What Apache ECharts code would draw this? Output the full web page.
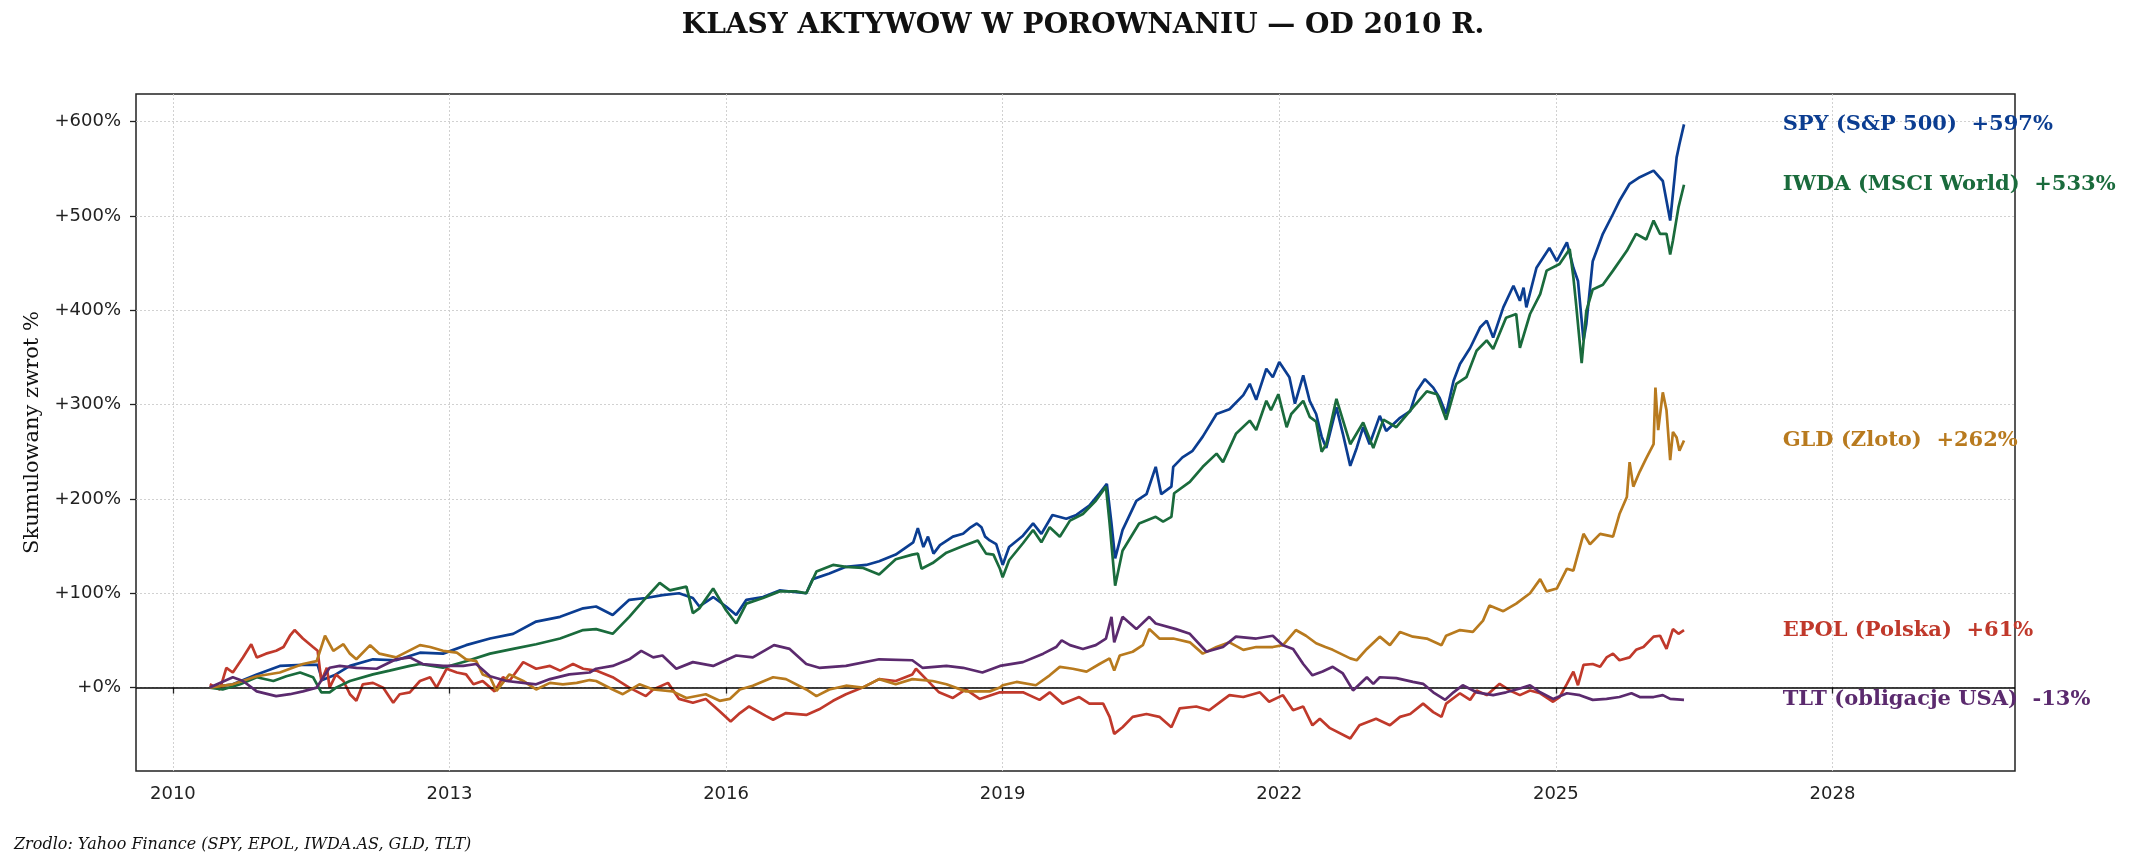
<!DOCTYPE html>
<html>
<head>
<meta charset="utf-8">
<title>Klasy aktywow w porownaniu</title>
<script src="https://cdn.jsdelivr.net/npm/echarts@6/dist/echarts.min.js"></script>
<style>
  html, body { margin: 0; padding: 0; background: #fff; }
  #chart { width: 2130px; height: 866px; }
</style>
</head>
<body>
<div id="chart"></div>
<script>
// dane: [rok dziesietny, skumulowany zwrot %]
var spy = [
  [2010.40,0],[2010.65,3.5],[2010.91,14],[2011.16,23],[2011.41,24],[2011.57,24],[2011.62,8],[2011.75,13],
  [2011.92,23],[2012.17,30],[2012.42,29],[2012.68,37],[2012.93,36],[2013.18,45],[2013.44,52],[2013.69,57],
  [2013.94,70],[2014.20,75],[2014.45,84],[2014.59,86],[2014.77,77],[2014.95,93],[2015.13,95],[2015.31,98],
  [2015.49,100],[2015.64,95],[2015.71,86],[2015.86,96],[2016.0,86],[2016.11,77],[2016.22,93],[2016.40,96],
  [2016.58,103],[2016.87,100],[2016.94,115],[2017.12,121],[2017.30,128],[2017.52,130],[2017.66,134],
  [2017.84,141],[2018.03,154],[2018.08,169],[2018.14,149],[2018.19,160],[2018.25,142],[2018.32,151],
  [2018.46,160],[2018.57,163],[2018.64,169],[2018.72,174],[2018.77,170],[2018.81,160],[2018.86,156],
  [2018.93,152],[2019.0,130],[2019.07,149],[2019.22,161],[2019.33,174],[2019.42,163],[2019.54,183],
  [2019.69,179],[2019.80,183],[2019.94,193],[2020.05,206],[2020.13,216],[2020.18,174],[2020.22,137],
  [2020.30,167],[2020.45,198],[2020.56,205],[2020.66,234],[2020.72,205],[2020.83,213],[2020.85,234],
  [2020.95,244],[2021.06,251],[2021.17,266],[2021.32,290],[2021.46,295],[2021.61,310],[2021.68,322],
  [2021.75,305],[2021.86,338],[2021.93,329],[2022.0,345],[2022.11,329],[2022.17,301],[2022.26,331],
  [2022.33,304],[2022.40,290],[2022.46,266],[2022.51,254],[2022.62,297],[2022.69,269],[2022.77,235],
  [2022.84,254],[2022.91,276],[2022.98,258],[2023.09,288],[2023.16,272],[2023.31,286],[2023.42,293],
  [2023.49,314],[2023.58,327],[2023.67,318],[2023.74,307],[2023.81,290],[2023.89,325],[2023.96,343],
  [2024.07,360],[2024.18,382],[2024.25,389],[2024.32,371],[2024.43,403],[2024.54,426],[2024.61,410],
  [2024.65,424],[2024.68,403],[2024.79,445],[2024.93,466],[2025.01,452],[2025.12,472],[2025.19,445],
  [2025.24,431],[2025.30,368],[2025.33,385],[2025.40,452],[2025.51,481],[2025.62,502],[2025.69,516],
  [2025.80,534],[2025.91,541],[2026.06,548],[2026.16,537],[2026.24,495],[2026.31,562],[2026.34,576],
  [2026.39,597]
];
var epol = [
  [2010.40,3.5],[2010.51,-2],[2010.58,21],[2010.65,16],[2010.76,32],[2010.85,46],[2010.91,32],[2011.01,36],
  [2011.12,39],[2011.20,43],[2011.27,55],[2011.32,61],[2011.41,52],[2011.52,43],[2011.57,39],[2011.61,7],
  [2011.67,21],[2011.70,0],[2011.77,14],[2011.85,7],[2011.92,-7],[2011.99,-14],[2012.06,3.5],[2012.17,5],
  [2012.28,0],[2012.39,-16],[2012.46,-7],[2012.57,-5],[2012.68,7],[2012.79,11],[2012.86,0],[2012.97,20],
  [2013.08,16],[2013.18,14],[2013.26,3.5],[2013.36,7],[2013.49,-4],[2013.58,11],[2013.65,7],[2013.80,27],
  [2013.94,20],[2014.09,23],[2014.20,18],[2014.34,25],[2014.45,20],[2014.59,18],[2014.77,11],[2014.95,0],
  [2015.13,-9],[2015.21,-2],[2015.37,5],[2015.49,-12],[2015.64,-16],[2015.78,-12],[2015.93,-25],
  [2016.05,-36],[2016.15,-27],[2016.25,-20],[2016.43,-30],[2016.51,-34],[2016.65,-27],[2016.87,-29],
  [2017.01,-23],[2017.16,-14],[2017.30,-7],[2017.48,0],[2017.66,9],[2017.84,7],[2018.02,14],[2018.06,20],
  [2018.17,9],[2018.31,-5],[2018.46,-11],[2018.60,-2],[2018.75,-12],[2018.97,-5],[2019.22,-5],
  [2019.40,-13],[2019.51,-5],[2019.65,-17],[2019.83,-10],[2019.94,-17],[2020.09,-17],[2020.16,-31],
  [2020.21,-49],[2020.30,-42],[2020.41,-31],[2020.56,-28],[2020.70,-31],[2020.83,-42],[2020.92,-22],
  [2021.10,-20],[2021.24,-24],[2021.39,-13],[2021.46,-8],[2021.61,-10],[2021.79,-5],[2021.89,-15],
  [2022.04,-8],[2022.15,-24],[2022.26,-20],[2022.36,-40],[2022.44,-33],[2022.55,-43],[2022.77,-54],
  [2022.87,-40],[2023.05,-33],[2023.20,-40],[2023.31,-31],[2023.42,-28],[2023.56,-17],[2023.67,-26],
  [2023.76,-31],[2023.81,-17],[2023.96,-6],[2024.07,-13],[2024.14,-3],[2024.25,-8],[2024.39,4],
  [2024.50,-3],[2024.61,-8],[2024.72,-3],[2024.83,-6],[2024.97,-15],[2025.04,-10],[2025.12,4],
  [2025.19,17],[2025.24,2.5],[2025.30,24],[2025.40,25],[2025.48,22],[2025.55,32],[2025.62,36],
  [2025.69,29],[2025.80,32],[2025.87,40],[2025.95,43],[2026.06,54],[2026.13,55],[2026.20,41],
  [2026.27,62],[2026.33,57],[2026.39,61]
];
var iwda = [
  [2010.40,0],[2010.54,-2],[2010.73,3.5],[2010.91,11],[2011.09,7],[2011.23,12],[2011.38,16],[2011.52,11],
  [2011.61,-5],[2011.70,-5],[2011.77,0],[2011.92,7],[2012.17,14],[2012.35,18],[2012.57,23],[2012.68,25],
  [2012.93,21],[2013.18,28],[2013.44,36],[2013.69,41],[2013.94,46],[2014.20,52],[2014.45,61],[2014.59,62],
  [2014.77,57],[2014.95,75],[2015.13,95],[2015.28,111],[2015.39,103],[2015.57,107],[2015.64,79],
  [2015.71,84],[2015.86,105],[2016.0,82],[2016.11,68],[2016.22,89],[2016.40,95],[2016.58,102],
  [2016.76,102],[2016.87,100],[2016.98,123],[2017.16,130],[2017.30,128],[2017.48,127],[2017.66,120],
  [2017.84,136],[2018.02,141],[2018.08,142],[2018.12,126],[2018.24,132],[2018.39,143],[2018.57,150],
  [2018.73,156],[2018.82,142],[2018.90,141],[2018.97,126],[2019.0,117],[2019.07,135],[2019.22,153],
  [2019.33,167],[2019.42,154],[2019.51,170],[2019.62,160],[2019.73,177],[2019.87,184],[2020.01,198],
  [2020.12,213],[2020.16,174],[2020.22,108],[2020.30,145],[2020.48,174],[2020.66,181],[2020.74,176],
  [2020.83,181],[2020.86,206],[2021.03,218],[2021.17,234],[2021.32,248],[2021.39,239],[2021.53,269],
  [2021.68,283],[2021.75,273],[2021.86,304],[2021.91,294],[2021.99,311],[2022.08,276],[2022.13,290],
  [2022.26,304],[2022.33,287],[2022.40,282],[2022.46,250],[2022.51,258],[2022.62,306],[2022.77,258],
  [2022.91,281],[2023.02,254],[2023.13,284],[2023.27,276],[2023.45,297],[2023.60,314],[2023.71,311],
  [2023.81,284],[2023.92,322],[2024.03,329],[2024.14,357],[2024.25,368],[2024.32,359],[2024.46,392],
  [2024.57,396],[2024.61,360],[2024.72,396],[2024.83,417],[2024.90,442],[2025.04,449],[2025.15,465],
  [2025.19,435],[2025.22,406],[2025.28,344],[2025.33,399],[2025.40,422],[2025.51,427],[2025.62,442],
  [2025.77,463],[2025.87,481],[2025.98,475],[2026.06,495],[2026.13,481],[2026.20,481],[2026.24,459],
  [2026.27,474],[2026.33,509],[2026.39,533]
];
var gld = [
  [2010.40,0],[2010.65,3.5],[2010.91,12],[2011.16,16],[2011.41,25],[2011.56,28],[2011.65,55],[2011.74,39],
  [2011.85,46],[2011.92,36],[2011.99,30],[2012.14,45],[2012.24,36],[2012.42,32],[2012.68,45],[2012.79,43],
  [2012.93,39],[2013.08,37],[2013.18,30],[2013.29,28],[2013.36,14],[2013.44,11],[2013.51,-3.5],
  [2013.65,14],[2013.80,7],[2013.94,-2],[2014.09,5],[2014.23,3.5],[2014.38,5],[2014.52,8],[2014.59,7],
  [2014.77,-2],[2014.88,-7],[2015.06,3.5],[2015.21,-2],[2015.42,-4],[2015.57,-11],[2015.78,-7],
  [2015.93,-14],[2016.04,-12],[2016.15,-2],[2016.29,2],[2016.51,11],[2016.65,9],[2016.87,-2],
  [2016.98,-9],[2017.12,-2],[2017.30,2],[2017.48,0],[2017.66,9],[2017.84,3.5],[2018.02,9],[2018.24,7],
  [2018.39,3.5],[2018.60,-4],[2018.86,-4],[2018.97,0],[2019.0,2.5],[2019.15,6],[2019.36,2.5],[2019.51,13],
  [2019.62,22],[2019.76,20],[2019.91,17],[2020.05,25],[2020.16,31],[2020.21,18],[2020.27,34],[2020.41,38],
  [2020.52,45],[2020.59,62],[2020.70,52],[2020.85,52],[2021.03,48],[2021.17,36],[2021.32,43],[2021.46,48],
  [2021.61,40],[2021.75,43],[2021.93,43],[2022.04,45],[2022.18,61],[2022.29,55],[2022.40,47],[2022.50,43],
  [2022.58,40],[2022.77,31],[2022.84,29],[2022.95,41],[2023.09,54],[2023.20,45],[2023.31,59],[2023.45,54],
  [2023.60,52],[2023.76,45],[2023.81,55],[2023.96,61],[2024.10,59],[2024.21,71],[2024.28,87],[2024.43,81],
  [2024.57,89],[2024.72,100],[2024.83,115],[2024.90,102],[2025.01,105],[2025.12,126],[2025.19,124],
  [2025.30,163],[2025.37,152],[2025.48,163],[2025.62,160],[2025.69,184],[2025.77,202],[2025.80,239],
  [2025.84,213],[2025.91,229],[2025.98,243],[2026.06,258],[2026.08,318],[2026.11,273],[2026.16,313],
  [2026.20,294],[2026.24,241],[2026.27,271],[2026.31,265],[2026.34,251],[2026.39,262]
];
var tlt = [
  [2010.40,0],[2010.65,11],[2010.76,7],[2010.91,-4],[2011.12,-9],[2011.27,-7],[2011.41,-4],[2011.56,0],
  [2011.70,21],[2011.81,23],[2011.99,21],[2012.21,20],[2012.42,30],[2012.57,32],[2012.71,25],[2012.93,23],
  [2013.15,23],[2013.29,25],[2013.44,12],[2013.62,7],[2013.80,5],[2013.94,3.5],[2014.09,9],[2014.30,14],
  [2014.52,16],[2014.59,20],[2014.77,23],[2014.95,30],[2015.08,39],[2015.21,32],[2015.31,34],[2015.46,20],
  [2015.64,27],[2015.86,23],[2016.11,34],[2016.29,32],[2016.52,45],[2016.69,41],[2016.87,25],[2017.01,21],
  [2017.30,23],[2017.66,30],[2018.02,29],[2018.13,21],[2018.39,23],[2018.57,21],[2018.78,16],[2018.97,23],
  [2019.22,27],[2019.44,36],[2019.58,43],[2019.64,50],[2019.73,45],[2019.87,41],[2020.01,45],[2020.12,52],
  [2020.18,75],[2020.21,48],[2020.30,75],[2020.45,62],[2020.59,75],[2020.66,68],[2020.88,62],[2021.03,57],
  [2021.21,38],[2021.39,43],[2021.53,54],[2021.75,52],[2021.93,55],[2022.04,45],[2022.15,41],[2022.26,25],
  [2022.36,13],[2022.47,17],[2022.58,22],[2022.69,15],[2022.80,-3],[2022.95,11],[2023.02,4],[2023.09,11],
  [2023.27,10],[2023.45,6],[2023.56,4],[2023.67,-5],[2023.80,-13],[2023.89,-5],[2023.99,2.5],[2024.14,-5],
  [2024.32,-8],[2024.46,-5],[2024.61,-1],[2024.72,2.5],[2024.83,-5],[2024.97,-12],[2025.12,-6],
  [2025.26,-8],[2025.40,-13],[2025.55,-12],[2025.69,-10],[2025.82,-6],[2025.91,-10],[2026.06,-10],
  [2026.16,-8],[2026.24,-12],[2026.39,-13]
];

var names = ['SPY (S&P 500)', 'EPOL (Polska)', 'IWDA (MSCI World)', 'GLD (Zloto)', 'TLT (obligacje USA)'];
var colors = ['#0b3d91', '#c0392b', '#1a6b3c', '#b87a1e', '#5b2a6e'];
var finals = [597, 61, 533, 262, -13];
var yearTicks = [2010, 2013, 2016, 2019, 2022, 2025, 2028];
var pctTicks = [0, 100, 200, 300, 400, 500, 600];
var labelYear = 2027.46;

var allData = [spy, epol, iwda, gld, tlt];

var series = [];
allData.forEach(function (d, i) {
  series.push({
    name: names[i],
    type: 'line',
    data: d,
    showSymbol: false,
    symbol: 'none',
    lineStyle: { width: 2.7, color: colors[i], opacity: 1 },
    itemStyle: { color: colors[i] },
    z: 3 + i,
    animation: false
  });
});
// linia zera
series[0].markLine = {
  silent: true,
  symbol: 'none',
  label: { show: false },
  lineStyle: { color: '#000', width: 1.5, type: 'solid' },
  data: [{ yAxis: 0 }],
  animation: false
};
// opisy na prawo
allData.forEach(function (d, i) {
  var sign = finals[i] >= 0 ? '+' : '';
  series.push({
    type: 'scatter',
    data: [[labelYear, finals[i]]],
    symbolSize: 0,
    silent: true,
    z: 10,
    animation: false,
    itemStyle: { color: colors[i], opacity: 1 },
    label: {
      show: true,
      position: 'right',
      distance: 0,
      opacity: 1,
      formatter: names[i] + '  ' + sign + finals[i] + '%',
      color: colors[i],
      fontFamily: 'DejaVu Serif',
      fontWeight: 'bold',
      fontSize: 21
    }
  });
});

var chart = echarts.init(document.getElementById('chart'));
chart.setOption({
  backgroundColor: '#fff',
  animation: false,
  grid: {
    left: 136, right: 115, top: 94, bottom: 95,
    show: true, borderColor: '#222', borderWidth: 1.5, backgroundColor: 'transparent'
  },
  xAxis: {
    type: 'value',
    min: 2009.6,
    max: 2029.98,
    axisLine: { show: false },
    axisTick: { show: true, customValues: yearTicks, length: 6, lineStyle: { color: '#222', width: 1.3 } },
    axisLabel: {
      customValues: yearTicks, margin: 14, color: '#222',
      fontFamily: 'DejaVu Sans', fontSize: 18,
      formatter: function (v) { return String(Math.round(v)); }
    },
    splitLine: { show: true, lineStyle: { color: '#cccccc', width: 0.9, type: [2, 2] } }
  },
  yAxis: {
    type: 'value',
    min: -88.4,
    max: 629.2,
    name: 'Skumulowany zwrot %',
    nameLocation: 'middle',
    nameGap: 93,
    nameTextStyle: { fontFamily: 'DejaVu Serif', fontSize: 21, color: '#111' },
    axisLine: { show: false },
    axisTick: { show: true, customValues: pctTicks, length: 6, lineStyle: { color: '#222', width: 1.3 } },
    axisLabel: {
      customValues: pctTicks, margin: 15, color: '#222',
      fontFamily: 'DejaVu Sans', fontSize: 18,
      formatter: function (v) { return '+' + Math.round(v) + '%'; }
    },
    splitLine: { show: true, lineStyle: { color: '#cccccc', width: 0.9, type: [2, 2] } }
  },
  graphic: [
    {
      type: 'text', x: 1083, y: 26,
      style: {
        text: 'KLASY AKTYWOW W POROWNANIU \u2014 OD 2010 R.',
        font: 'bold 28px "DejaVu Serif"', fill: '#111',
        textAlign: 'center', textVerticalAlign: 'middle'
      }
    },
    {
      type: 'text', x: 14, y: 845,
      style: {
        text: 'Zrodlo: Yahoo Finance (SPY, EPOL, IWDA.AS, GLD, TLT)',
        font: 'italic 16px "DejaVu Serif"', fill: '#111',
        textAlign: 'left', textVerticalAlign: 'middle'
      }
    }
  ],
  series: series
});
</script>
</body>
</html>
